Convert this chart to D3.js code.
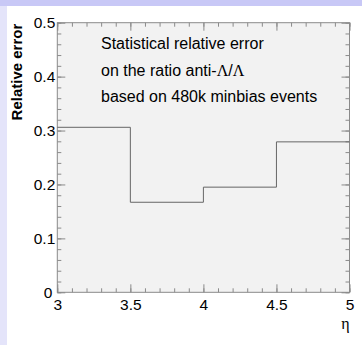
<!DOCTYPE html>
<html>
<head>
<meta charset="utf-8">
<script src="https://cdn.jsdelivr.net/npm/d3@7"></script>
<style>
  body { margin: 0; background: #fff; }
  svg { display: block; font-family: "Liberation Sans", Arial, sans-serif; }
</style>
</head>
<body>
<div id="chart"></div>
<script>
// histogram: relative error per eta bin
const binEdges = [3, 3.5, 4, 4.5, 5];
const relErr = [0.306, 0.167, 0.195, 0.279];
const xTicks = [3, 3.5, 4, 4.5, 5];
const yTicks = [0, 0.1, 0.2, 0.3, 0.4, 0.5];
const noteLines = ['Statistical relative error', 'on the ratio anti-', 'based on 480k minbias events'];

const width = 362, height = 345;
const margin = { top: 22.7, right: 12.5, bottom: 52.7, left: 57.3 };

const svg = d3.select('#chart').append('svg')
  .attr('width', width)
  .attr('height', height);

// canvas border bands
svg.append('rect').attr('x', 0).attr('y', 0).attr('width', 7).attr('height', height).attr('fill', '#e4e4fa');
svg.append('rect').attr('x', 0).attr('y', 0).attr('width', width).attr('height', 6).attr('fill', '#c8c8f6');

const x = d3.scaleLinear()
  .domain([3, 5])
  .range([margin.left, width - margin.right]);

const y = d3.scaleLinear()
  .domain([0, 0.5])
  .range([height - margin.bottom, margin.top]);

// frame
svg.append('rect')
  .attr('x', x(3))
  .attr('y', y(0.5))
  .attr('width', x(5) - x(3))
  .attr('height', y(0) - y(0.5))
  .attr('fill', '#f2f2f2');

const xMinor = d3.range(30, 51).map(d => d / 10);
const yMinor = d3.range(0, 26).map(d => d / 50);

function styleAxis(g) {
  g.select('.domain').remove();
  g.selectAll('line').attr('stroke', '#8a8a8a');
  g.selectAll('text').attr('fill', '#000');
}

// minor ticks
svg.append('g').attr('transform', `translate(0,${y(0)})`)
  .call(d3.axisBottom(x).tickValues(xMinor).tickSize(-4).tickFormat(''))
  .call(styleAxis);
svg.append('g').attr('transform', `translate(0,${y(0.5)})`)
  .call(d3.axisTop(x).tickValues(xMinor).tickSize(-4).tickFormat(''))
  .call(styleAxis);
svg.append('g').attr('transform', `translate(${x(3)},0)`)
  .call(d3.axisLeft(y).tickValues(yMinor).tickSize(-4).tickFormat(''))
  .call(styleAxis);
svg.append('g').attr('transform', `translate(${x(5)},0)`)
  .call(d3.axisRight(y).tickValues(yMinor).tickSize(-4).tickFormat(''))
  .call(styleAxis);

// major ticks + labels
svg.append('g').attr('transform', `translate(0,${y(0)})`)
  .call(d3.axisBottom(x).tickValues(xTicks).tickSize(-8).tickPadding(7).tickFormat(d3.format('')))
  .call(styleAxis)
  .call(g => g.selectAll('text').attr('font-size', 15.5).attr('font-family', '"Liberation Sans", Arial, sans-serif'));
svg.append('g').attr('transform', `translate(0,${y(0.5)})`)
  .call(d3.axisTop(x).tickValues(xTicks).tickSize(-8).tickFormat(''))
  .call(styleAxis);
svg.append('g').attr('transform', `translate(${x(3)},0)`)
  .call(d3.axisLeft(y).tickValues(yTicks).tickSize(-8).tickPadding(2).tickFormat(d3.format('')))
  .call(styleAxis)
  .call(g => g.selectAll('text').attr('font-size', 15.5).attr('font-family', '"Liberation Sans", Arial, sans-serif'))
  .call(g => g.selectAll('.tick').filter(d => d === 0).select('text').attr('x', -5));
svg.append('g').attr('transform', `translate(${x(5)},0)`)
  .call(d3.axisRight(y).tickValues(yTicks).tickSize(-8).tickFormat(''))
  .call(styleAxis);

// frame border
svg.append('rect')
  .attr('x', x(3))
  .attr('y', y(0.5))
  .attr('width', x(5) - x(3))
  .attr('height', y(0) - y(0.5))
  .attr('fill', 'none')
  .attr('stroke', '#8a8a8a');

// histogram outline
const pts = binEdges.map((e, i) => [e, relErr[Math.min(i, relErr.length - 1)]]);
const line = d3.line()
  .x(d => x(d[0]))
  .y(d => y(d[1]))
  .curve(d3.curveStepAfter);
svg.append('path')
  .attr('d', line(pts))
  .attr('fill', 'none')
  .attr('stroke', '#666')
  .attr('stroke-width', 1);

// note text
const note = svg.append('g').attr('font-size', 16).attr('fill', '#000');
const noteY = [48.5, 75.5, 102];
noteLines.forEach((t, i) => {
  const txt = note.append('text').attr('x', 101).attr('y', noteY[i]).text(t);
  if (i === 1) {
    txt.append('tspan').attr('font-family', '"Liberation Serif", serif').text('\u039B');
    txt.append('tspan').text('/');
    txt.append('tspan').attr('font-family', '"Liberation Serif", serif').text('\u039B');
  }
});

// axis titles
svg.append('text')
  .attr('transform', `translate(22,${y(0.5) + 1}) rotate(-90)`)
  .attr('text-anchor', 'end')
  .attr('font-size', 15)
  .attr('font-weight', 'bold')
  .text('Relative error');

svg.append('text')
  .attr('x', x(5))
  .attr('y', 329)
  .attr('text-anchor', 'end')
  .attr('font-size', 16)
  .attr('font-family', '"Liberation Serif", serif')
  .text('\u03B7');
</script>
</body>
</html>
